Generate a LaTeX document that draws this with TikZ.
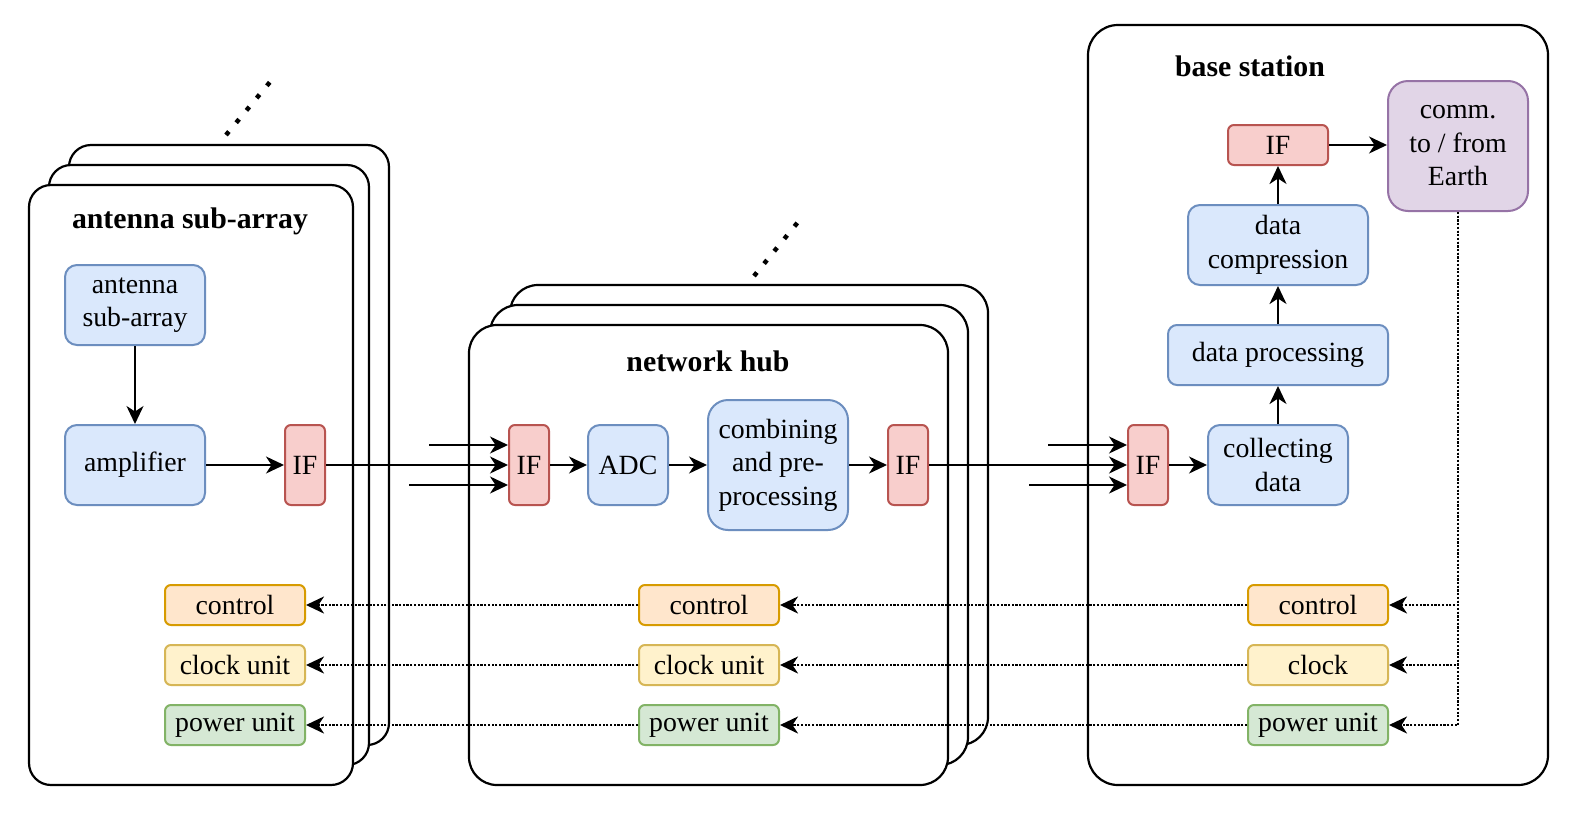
\documentclass[tikz,border=0pt]{standalone}
\usepackage{fontspec}
\setmainfont{Liberation Serif}
\usetikzlibrary{arrows.meta}
\definecolor{bluefill}{HTML}{DAE8FC}\definecolor{blueline}{HTML}{6C8EBF}
\definecolor{redfill}{HTML}{F8CECC}\definecolor{redline}{HTML}{B85450}
\definecolor{orangefill}{HTML}{FFE6CC}\definecolor{orangeline}{HTML}{D79B00}
\definecolor{yellowfill}{HTML}{FFF2CC}\definecolor{yellowline}{HTML}{D6B656}
\definecolor{greenfill}{HTML}{D5E8D4}\definecolor{greenline}{HTML}{82B366}
\definecolor{purplefill}{HTML}{E1D5E7}\definecolor{purpleline}{HTML}{9673A6}
\begin{document}
\begin{tikzpicture}[x=1pt,y=-1pt,
  box/.style={rectangle, line width=2pt, inner sep=0pt, align=center, font=\fontsize{27.8}{33.5}\selectfont},
  bluebox/.style={box, draw=blueline, fill=bluefill, rounded corners=12pt, minimum width=140pt, minimum height=80pt},
  ifbox/.style={box, draw=redline, fill=redfill, rounded corners=6pt, minimum width=40pt, minimum height=80pt},
  ctlbox/.style={box, draw=orangeline, fill=orangefill, rounded corners=6pt, minimum width=140pt, minimum height=40pt},
  clkbox/.style={box, draw=yellowline, fill=yellowfill, rounded corners=6pt, minimum width=140pt, minimum height=40pt},
  pwrbox/.style={box, draw=greenline, fill=greenfill, rounded corners=6pt, minimum width=140pt, minimum height=40pt},
  commbox/.style={box, draw=purpleline, fill=purplefill, rounded corners=20pt, minimum width=140pt, minimum height=130pt},
  container/.style={draw, fill=white, line width=2.2pt},
  title/.style={anchor=base, font=\fontsize{29.8}{36}\selectfont\bfseries},
  more/.style={line width=4.5pt, dash pattern=on 4.5pt off 11.5pt},
  arr/.style={-{Stealth[length=18pt, width=17pt, inset=5.5pt]}, line width=2pt},
  sig/.style={arr, line width=2.4pt, dash pattern=on 2.2pt off 1.5pt}]

\useasboundingbox (0,0) rectangle (1578,833);

\draw[container, rounded corners=22pt] (69,145) rectangle (389,745);
\draw[container, rounded corners=22pt] (49,165) rectangle (369,765);
\draw[container, rounded corners=22pt] (29,185) rectangle (353,785);
\draw[more] (226,135) -- (270,82);
\node[title] (anttitle) at (190,228) {antenna sub-array};

\draw[container, rounded corners=28pt] (510,285) rectangle (988,745);
\draw[container, rounded corners=28pt] (490,305) rectangle (968,765);
\draw[container, rounded corners=28pt] (469,325) rectangle (948,785);
\draw[more] (754,276) -- (798,222);
\node[title] (hubtitle) at (708,371) {network hub};

\draw[container, rounded corners=30pt] (1088,25) rectangle (1548,785);
\node[title] (basetitle) at (1250,76) {base station};

\node[bluebox] (antenna) at (135,305) {antenna\\sub-array};
\node[bluebox] (amp) at (135,465) {amplifier};
\node[ifbox] (ifant) at (305,465) {IF};
\node[ctlbox] (ctlant) at (235,605) {control};
\node[clkbox] (clkant) at (235,665) {clock unit};
\node[pwrbox] (pwrant) at (235,725) {power unit};

\node[ifbox] (ifin) at (529,465) {IF};
\node[bluebox, minimum width=80pt] (adc) at (628,465) {ADC};
\node[bluebox, rounded corners=20pt, minimum height=130pt] (comb) at (778,465) {combining\\and pre-\\processing};
\node[ifbox] (ifout) at (908,465) {IF};
\node[ctlbox] (ctlhub) at (709,605) {control};
\node[clkbox] (clkhub) at (709,665) {clock unit};
\node[pwrbox] (pwrhub) at (709,725) {power unit};

\node[ifbox] (ifbase) at (1148,465) {IF};
\node[bluebox] (collect) at (1278,465) {collecting\\data};
\node[bluebox, rounded corners=9pt, minimum width=220pt, minimum height=60pt] (proc) at (1278,355) {data processing};
\node[bluebox, minimum width=180pt] (compr) at (1278,245) {data\\compression};
\node[ifbox, minimum width=100pt, minimum height=40pt] (iftop) at (1278,145) {IF};
\node[commbox] (comm) at (1458,146) {comm.\\to / from\\Earth};
\node[ctlbox] (ctlbase) at (1318,605) {control};
\node[clkbox] (clkbase) at (1318,665) {clock};
\node[pwrbox] (pwrbase) at (1318,725) {power unit};

\coordinate (hubinA) at (429,445);
\coordinate (hubinB) at (409,485);
\coordinate (baseinA) at (1048,445);
\coordinate (baseinB) at (1029,485);

\draw[arr] (antenna) -- (amp);
\draw[arr] (amp) -- (ifant);
\draw[arr] (ifant) -- (ifin);
\draw[arr] (hubinA) -- (hubinA -| ifin.west);
\draw[arr] (hubinB) -- (hubinB -| ifin.west);
\draw[arr] (ifin) -- (adc);
\draw[arr] (adc) -- (comb);
\draw[arr] (comb) -- (ifout);
\draw[arr] (ifout) -- (ifbase);
\draw[arr] (baseinA) -- (baseinA -| ifbase.west);
\draw[arr] (baseinB) -- (baseinB -| ifbase.west);
\draw[arr] (ifbase) -- (collect);
\draw[arr] (collect) -- (proc);
\draw[arr] (proc) -- (compr);
\draw[arr] (compr) -- (iftop);
\draw[arr] (iftop.east) -- (iftop.east -| comm.west);

\draw[sig] (comm.south) |- (ctlbase.east);
\draw[sig] (comm.south) |- (clkbase.east);
\draw[sig] (comm.south) |- (pwrbase.east);
\draw[sig] (ctlbase) -- (ctlhub);
\draw[sig] (clkbase) -- (clkhub);
\draw[sig] (pwrbase) -- (pwrhub);
\draw[sig] (ctlhub) -- (ctlant);
\draw[sig] (clkhub) -- (clkant);
\draw[sig] (pwrhub) -- (pwrant);
\end{tikzpicture}
\end{document}
